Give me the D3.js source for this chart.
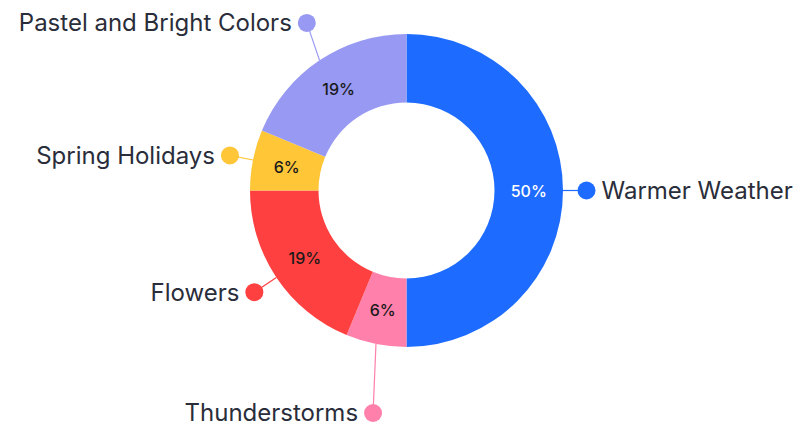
<!DOCTYPE html>
<html>
<head>
<meta charset="utf-8">
<script src="https://cdn.jsdelivr.net/npm/d3@7"></script>
<style>
  body { margin: 0; background: #fff; }
  text { font-family: Inter, "Noto Sans", sans-serif; }
</style>
</head>
<body>
<script>
"use strict";

var width = 802;
var height = 430;

// data
var categories = ["Warmer Weather", "Thunderstorms", "Flowers", "Spring Holidays", "Pastel and Bright Colors"];
var values = [8, 1, 3, 1, 3];
var colors = ["#1d6cff", "#ff80aa", "#ff4040", "#ffc638", "#9799f2"];
var labelColors = ["#ffffff", "#1a1a1a", "#1a1a1a", "#1a1a1a", "#1a1a1a"];

// label layout: angle shift (deg) and radius of the dot
var dotShift = [0, -2.7, 0, 0, 3];
var dotRadius = [180, 225, 183, 180, 195];

var cx = 406.5;
var cy = 190.5;
var outerR = 156.5;
var innerR = 88;

var svg = d3.select("body").append("svg").attr("width", width).attr("height", height);
var g = svg.append("g").attr("transform", "translate(" + cx + "," + cy + ")");

var pie = d3.pie().sort(null).value(function (d) { return d; });
var arcs = pie(values);
var arc = d3.arc().innerRadius(innerR).outerRadius(outerR);
var total = d3.sum(values);

g.selectAll("path.slice").data(arcs).enter().append("path")
  .attr("class", "slice")
  .attr("d", arc)
  .attr("fill", function (d, i) { return colors[i]; });

// percent labels
var mid = d3.arc().innerRadius((innerR + outerR) / 2).outerRadius((innerR + outerR) / 2);
g.selectAll("text.pct").data(arcs).enter().append("text")
  .attr("class", "pct")
  .attr("x", function (d) { return mid.centroid(d)[0]; })
  .attr("y", function (d) { return mid.centroid(d)[1]; })
  .attr("text-anchor", "middle")
  .attr("dominant-baseline", "central")
  .attr("font-size", 16)
  .attr("font-weight", 500)
  .attr("fill", function (d, i) { return labelColors[i]; })
  .text(function (d) { return Math.round(d.value / total * 100) + "%"; });

function polar(a, r) {
  return [Math.sin(a) * r, -Math.cos(a) * r];
}

function midAngle(d) {
  return (d.startAngle + d.endAngle) / 2;
}

// leader lines, dots and names
arcs.forEach(function (d, i) {
  var a = midAngle(d);
  var p0 = polar(a, outerR);
  var p1 = polar(a + dotShift[i] * Math.PI / 180, dotRadius[i]);
  var right = p1[0] > 0;

  g.append("line")
    .attr("x1", p0[0]).attr("y1", p0[1])
    .attr("x2", p1[0]).attr("y2", p1[1])
    .attr("stroke", colors[i])
    .attr("stroke-width", 1.2);

  g.append("circle")
    .attr("cx", p1[0]).attr("cy", p1[1])
    .attr("r", 9)
    .attr("fill", colors[i]);

  g.append("text")
    .attr("x", p1[0] + (right ? 15 : -15))
    .attr("y", p1[1])
    .attr("text-anchor", right ? "start" : "end")
    .attr("dominant-baseline", "central")
    .attr("font-size", 24)
    .attr("fill", "#2a2d3a")
    .text(categories[i]);
});
</script>
</body>
</html>
